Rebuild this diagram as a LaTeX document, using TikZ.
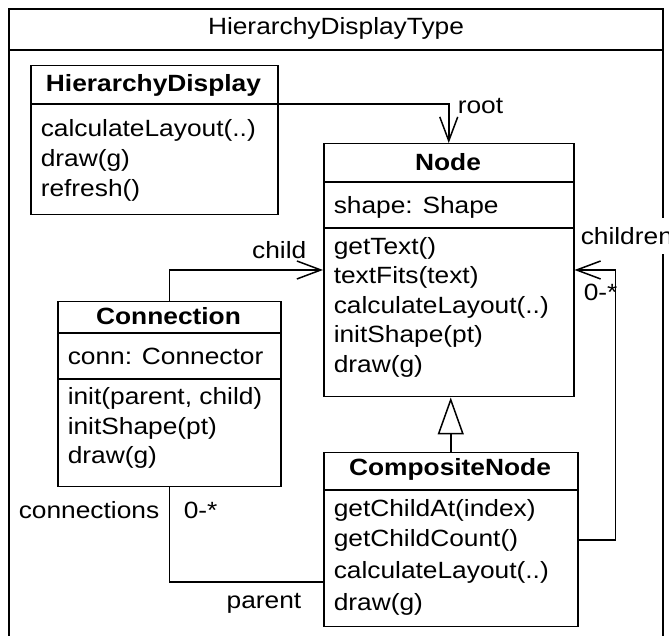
\documentclass[tikz,border=0pt]{standalone}
\usepackage{fontspec}
\setmainfont{Liberation Sans}[FakeStretch=1.12]
\usetikzlibrary{arrows.meta}
\begin{document}
\begin{tikzpicture}[x=1pt,y=1pt, line width=1.5pt,
  txt/.style={font=\fontsize{23.5}{28}\selectfont, inner sep=0pt},
  mth/.style={txt, anchor=west},
  ttl/.style={inner sep=0pt, font=\fontsize{23.5}{28}\selectfont\bfseries},
  cls/.style={draw, inner sep=0pt, anchor=north west},
  assoc/.style={-{Straight Barb[length=24pt,width=18pt]}},
  gen/.style={-{Triangle[open,length=37pt,width=26pt]}}]
\useasboundingbox (0,0) rectangle (669,636);
% outer frame
\draw (9,-10) -- (9,627) -- (663,627) -- (663,-10);
\draw (9,586) -- (663,586);
\node[txt] (frametitle) at (336,608) {HierarchyDisplayType};

% HierarchyDisplay
\node[cls, minimum width=247pt, minimum height=149pt] (hd) at (30,571) {};
\draw (30,532) -- (277,532);
\node[ttl] (hdt) at (153.5,551) {HierarchyDisplay};
\node[mth] (hd1) at (40,506) {calculateLayout(..)};
\node[mth] (hd2) at (40,476) {draw(g)};
\node[mth] (hd3) at (40,446) {refresh()};

% Node
\node[cls, minimum width=250pt, minimum height=253pt] (nd) at (323,493) {};
\draw (323,454) -- (573,454);
\draw (323,408) -- (573,408);
\node[ttl] (ndt) at (448,474) {Node};
\node[mth] (nda) at (333,429) {shape: Shape};
\node[mth] (nd1) at (333,388) {getText()};
\node[mth] (nd2) at (333,359) {textFits(text)};
\node[mth] (nd3) at (333,329) {calculateLayout(..)};
\node[mth] (nd4) at (333,300) {initShape(pt)};
\node[mth] (nd5) at (333,270) {draw(g)};

% Connection
\node[cls, minimum width=223pt, minimum height=185pt] (con) at (57,335) {};
\draw (57,303) -- (280,303);
\draw (57,257) -- (280,257);
\node[ttl] (cont) at (168.5,320) {Connection};
\node[mth] (cona) at (67,280) {conn: Connector};
\node[mth] (con1) at (67,238) {init(parent, child)};
\node[mth] (con2) at (67,208) {initShape(pt)};
\node[mth] (con3) at (67,179) {draw(g)};

% CompositeNode
\node[cls, minimum width=254pt, minimum height=174pt] (cn) at (323,184) {};
\draw (323,146) -- (577,146);
\node[ttl] (cnt) at (450,167) {CompositeNode};
\node[mth] (cn1) at (333,126) {getChildAt(index)};
\node[mth] (cn2) at (333,96) {getChildCount()};
\node[mth] (cn3) at (333,64) {calculateLayout(..)};
\node[mth] (cn4) at (333,32) {draw(g)};

% connectors
\coordinate (r0) at (277,532);
\coordinate (c1) at (0,366);
\coordinate (ch0) at (0,96);
\coordinate (p0) at (0,54);
\draw[assoc] (r0) -| (nd.north);
\draw[assoc] (con.north) |- (nd.west |- c1);
\draw[assoc] (cn.east |- ch0) -- ++(37,0) |- (nd.east |- c1);
\draw (con.south) |- (cn.west |- p0);
\draw[gen] (cn.north) -- (cn.north |- nd.south);

% labels
\node[txt, anchor=west] (lroot) at (457,530) {root};
\node[txt, anchor=east] (lchild) at (307,386) {child};
\node[txt, anchor=west, fill=white, inner xsep=2pt, inner ysep=9pt] (lchildren) at (578,400) {children};
\node[txt, anchor=west] (lmany1) at (583,344) {0-*};
\node[txt, anchor=east] (lconn) at (160,126) {connections};
\node[txt, anchor=west] (lmany2) at (183,126) {0-*};
\node[txt, anchor=east] (lparent) at (302,33) {parent};
\end{tikzpicture}
\end{document}
